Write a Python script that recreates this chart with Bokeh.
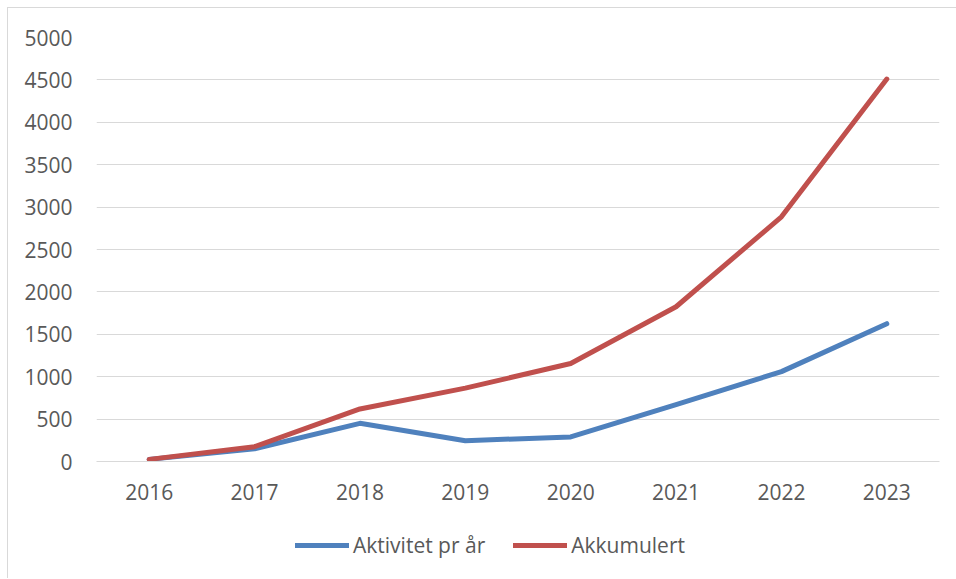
from bokeh.plotting import figure
from bokeh.layouts import column
from bokeh.models import FactorRange, Range1d, Legend, LegendItem
from bokeh.embed import file_html
from bokeh.resources import INLINE

years = ["2016", "2017", "2018", "2019", "2020", "2021", "2022", "2023"]
aktivitet = [25, 150, 450, 245, 290, 670, 1060, 1625]
akkumulert = [25, 175, 620, 865, 1155, 1825, 2885, 4510]
y_ticks = list(range(0, 5001, 500))
series_names = ["Aktivitet pr år", "Akkumulert"]

FONT = "Open Sans"
TXT = "#595959"
BLUE = "#4F81BD"
RED = "#C0504D"

p = figure(width=948, height=512, output_backend="svg", toolbar_location=None,
           x_range=FactorRange(*years), y_range=Range1d(0, 5000),
           min_border_left=88, min_border_right=17, min_border_top=29, min_border_bottom=59)
p.outline_line_color = None
p.background_fill_color = "white"
p.border_fill_color = "white"

p.line(years, aktivitet, line_color=BLUE, line_width=5, line_cap="round", line_join="round")
p.line(years, akkumulert, line_color=RED, line_width=5, line_cap="round", line_join="round")

p.yaxis.ticker = y_ticks
p.yaxis.axis_line_color = None
p.yaxis.major_tick_line_color = None
p.yaxis.minor_tick_line_color = None
p.yaxis.major_label_standoff = 18
p.yaxis.major_label_text_font = FONT
p.yaxis.major_label_text_font_size = "21px"
p.yaxis.major_label_text_color = TXT

p.xaxis.axis_line_color = "#d9d9d9"
p.xaxis.major_tick_line_color = None
p.xaxis.minor_tick_line_color = None
p.xaxis.major_label_standoff = 16
p.xaxis.major_label_text_font = FONT
p.xaxis.major_label_text_font_size = "21px"
p.xaxis.major_label_text_color = TXT

p.xgrid.grid_line_color = None
p.ygrid.grid_line_color = "#d9d9d9"
p.ygrid.grid_line_width = 1

# legend strip below the chart (series drawn out of view; only the legend shows)
q = figure(width=948, height=58, output_backend="svg", toolbar_location=None,
           x_range=FactorRange(*years), y_range=Range1d(100000, 100001),
           min_border_left=0, min_border_right=0, min_border_top=0, min_border_bottom=0)
q.axis.visible = False
q.grid.visible = False
q.outline_line_color = None
q.border_fill_color = "white"
l1 = q.line(years, aktivitet, line_color=BLUE, line_width=5, line_cap="round")
l2 = q.line(years, akkumulert, line_color=RED, line_width=5, line_cap="round")
legend = Legend(items=[LegendItem(label=series_names[0], renderers=[l1]),
                       LegendItem(label=series_names[1], renderers=[l2])],
                orientation="horizontal", location=(199, 19),
                glyph_width=54, glyph_height=24, label_standoff=4, spacing=28,
                padding=0, margin=0, border_line_color=None, background_fill_alpha=0,
                label_text_font=FONT, label_text_font_size="21px", label_text_color=TXT)
q.add_layout(legend, "center")

layout = column(p, q, spacing=0)
layout.styles = {"margin-top": "7px", "margin-left": "7px",
                 "border-top": "1px solid #d9d9d9", "border-left": "1px solid #d9d9d9"}

open("out.html", "w").write(file_html(layout, INLINE))
